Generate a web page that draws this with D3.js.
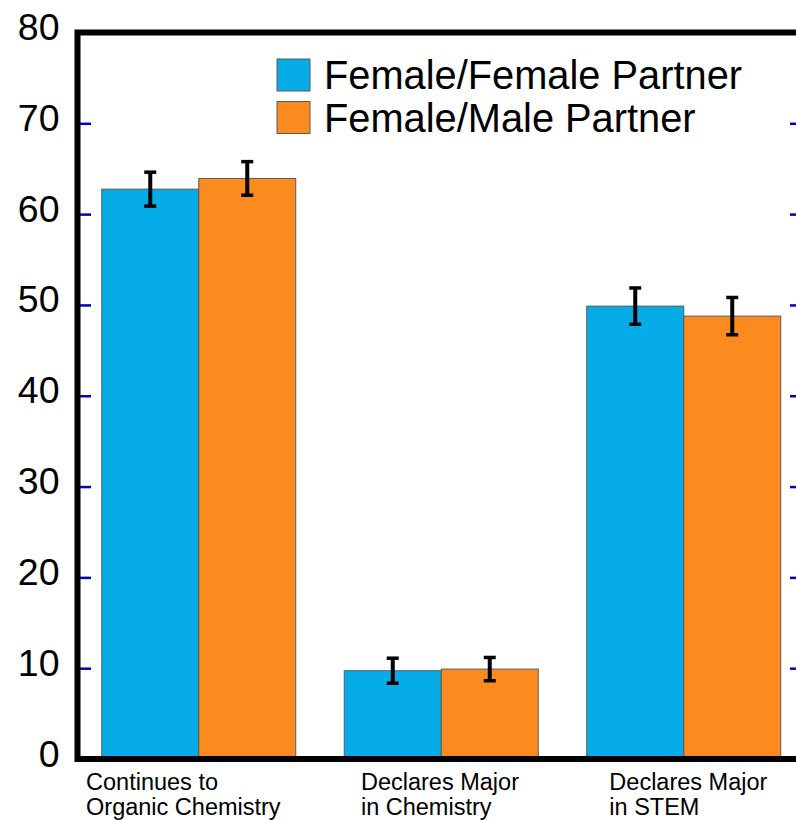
<!DOCTYPE html>
<html>
<head>
<meta charset="utf-8">
<script src="https://cdn.jsdelivr.net/npm/d3@7/dist/d3.min.js"></script>
<style>
  html, body { margin: 0; padding: 0; background: #fff; }
  svg { display: block; font-family: "Liberation Sans", Arial, Helvetica, sans-serif; }
</style>
</head>
<body>
<svg id="chart" width="796" height="820"></svg>
<script>
// Outcome categories (each label split into two lines)
const categories = ["Continues to Organic Chemistry", "Declares Major in Chemistry", "Declares Major in STEM"];
const categoryLines = [["Continues to", "Organic Chemistry"], ["Declares Major", "in Chemistry"], ["Declares Major", "in STEM"]];

// Series: percentage of students, with error bar half-widths
const seriesNames = ["Female/Female Partner", "Female/Male Partner"];
const femaleFemale = [62.75, 9.72, 49.87];
const femaleFemaleErr = [1.87, 1.38, 2.0];
const femaleMale = [63.93, 9.9, 48.77];
const femaleMaleErr = [1.85, 1.28, 2.05];

const yTicks = [0, 10, 20, 30, 40, 50, 60, 70, 80];

const colors = ["#06ace7", "#fb8b1e"];
const tickBlue = "#0000c0";

const svg = d3.select("#chart");

const plotLeft = 77.5, plotRight = 805, plotTop = 32.5, plotBottom = 759;

const x = d3.scaleBand().domain(categories).range([plotLeft, plotRight])
  .paddingInner(0.2).paddingOuter(0.1);
const xSub = d3.scaleBand().domain(seriesNames).range([0, x.bandwidth()]);
const y = d3.scaleLinear().domain([0, 80]).range([plotBottom, plotTop]);

const series = [
  { name: seriesNames[0], values: femaleFemale, errs: femaleFemaleErr, color: colors[0] },
  { name: seriesNames[1], values: femaleMale, errs: femaleMaleErr, color: colors[1] }
];

// Bars
const rows = [];
series.forEach(s => categories.forEach((c, i) => rows.push({ s, c, v: s.values[i], e: s.errs[i] })));

svg.append("g").selectAll("rect").data(rows).join("rect")
  .attr("x", d => x(d.c) + xSub(d.s.name))
  .attr("y", d => y(d.v))
  .attr("width", xSub.bandwidth())
  .attr("height", d => y(0) - y(d.v))
  .attr("fill", d => d.s.color)
  .attr("stroke", "#5a5a5a")
  .attr("stroke-width", 1);

// Error bars
const eb = svg.append("g").attr("stroke", "#000").attr("stroke-width", 4);
rows.forEach(d => {
  const cx = x(d.c) + xSub(d.s.name) + xSub.bandwidth() / 2;
  const capW = 6;
  eb.append("line").attr("x1", cx).attr("x2", cx).attr("y1", y(d.v + d.e)).attr("y2", y(d.v - d.e));
  eb.append("line").attr("x1", cx - capW).attr("x2", cx + capW).attr("y1", y(d.v + d.e)).attr("y2", y(d.v + d.e)).attr("stroke-width", 3.5);
  eb.append("line").attr("x1", cx - capW).attr("x2", cx + capW).attr("y1", y(d.v - d.e)).attr("y2", y(d.v - d.e)).attr("stroke-width", 3.5);
});

// Left axis: inward blue ticks and large labels
const yAxisL = svg.append("g").attr("transform", `translate(${plotLeft},0)`)
  .call(d3.axisLeft(y).tickValues(yTicks).tickSizeInner(-13.5).tickSizeOuter(0).tickPadding(18));
yAxisL.select(".domain").remove();
yAxisL.selectAll(".tick line").attr("stroke", tickBlue).attr("stroke-width", 2.5);
yAxisL.selectAll(".tick text")
  .attr("font-size", 37.5).attr("fill", "#000")
  .attr("dy", null).attr("dominant-baseline", "alphabetic")
  .attr("y", 7)
  .attr("font-family", "'Liberation Sans', Arial, Helvetica, sans-serif");

// Right axis: inward ticks only
const yAxisR = svg.append("g").attr("transform", `translate(${plotRight},0)`)
  .call(d3.axisRight(y).tickValues(yTicks).tickSizeInner(-15).tickSizeOuter(0).tickFormat(""));
yAxisR.select(".domain").remove();
yAxisR.selectAll(".tick line").attr("stroke", tickBlue).attr("stroke-width", 2.5);

// Heavy frame
svg.append("rect")
  .attr("x", plotLeft).attr("y", plotTop)
  .attr("width", plotRight - plotLeft).attr("height", plotBottom - plotTop)
  .attr("fill", "none").attr("stroke", "#000").attr("stroke-width", 6);

// Category labels, two lines each, left-aligned under each group
const labelShift = [-15.7, 16.7, 22.6];
const catG = svg.append("g").attr("font-size", 23.5).attr("fill", "#000");
categories.forEach((c, i) => {
  const t = catG.append("text").attr("x", x(c) + labelShift[i]).attr("y", 790);
  categoryLines[i].forEach((ln, j) => {
    t.append("tspan").attr("x", x(c) + labelShift[i]).attr("dy", j === 0 ? 0 : 25).text(ln);
  });
});

// Legend
const legend = svg.append("g").attr("transform", "translate(277,59)");
series.forEach((s, i) => {
  const g = legend.append("g").attr("transform", `translate(0,${i * 42.5})`);
  g.append("rect").attr("width", 33).attr("height", 32)
    .attr("fill", s.color).attr("stroke", "#5a5a5a").attr("stroke-width", 1);
  g.append("text").attr("x", 47).attr("y", 30)
    .attr("font-size", 39.8).attr("fill", "#000").text(s.name);
});
</script>
</body>
</html>
